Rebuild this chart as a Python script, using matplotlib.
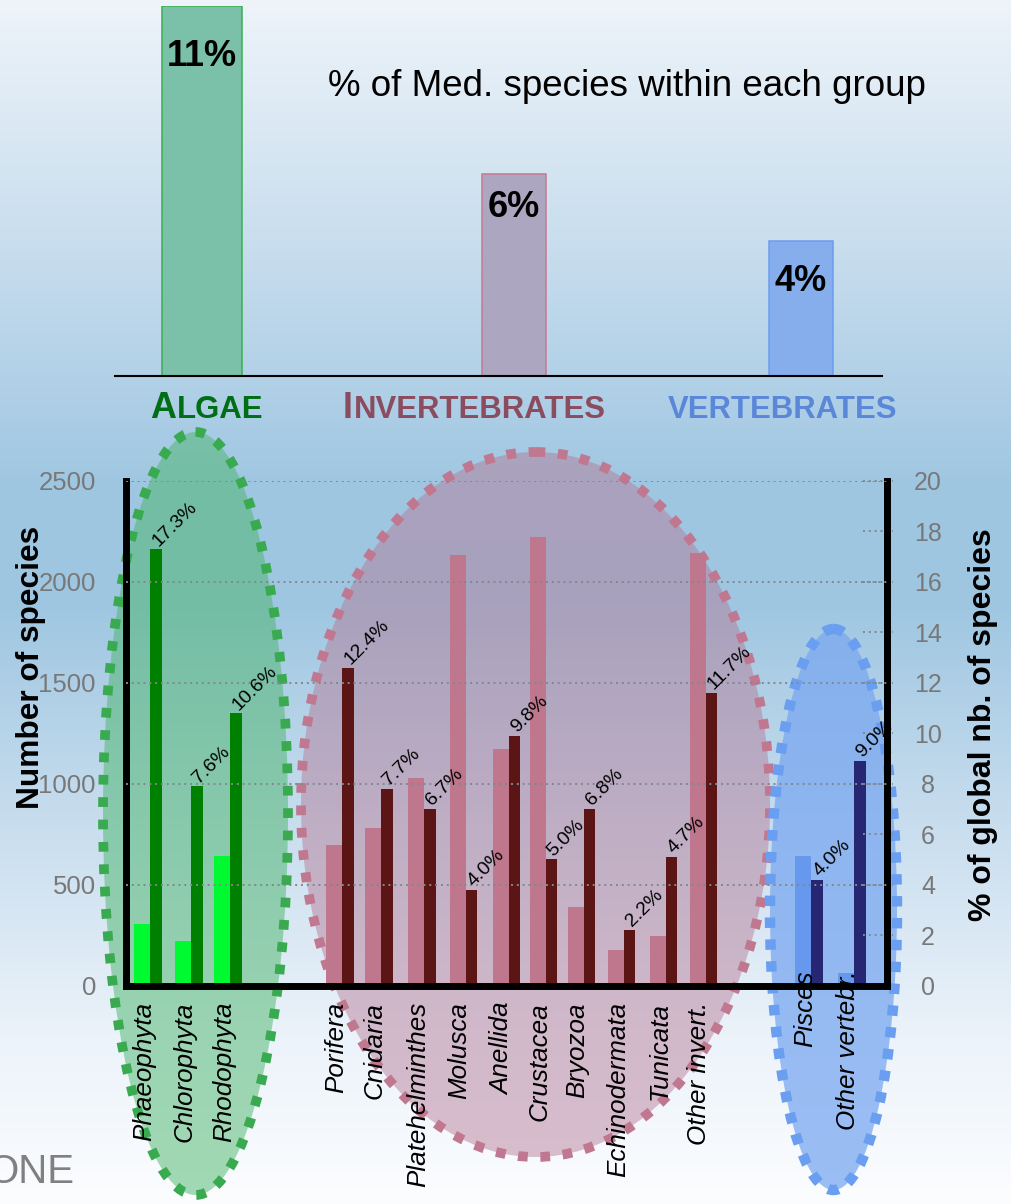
#=========================================================================
import numpy as np
import matplotlib
matplotlib.use('Agg')
import matplotlib.pyplot as plt
from matplotlib.patches import Ellipse

plt.rcParams['font.family'] = ['Liberation Sans', 'DejaVu Sans']

#=========================================================================
# values
group_first = ['A', 'I', '']
group_rest = ['LGAE', 'NVERTEBRATES', 'VERTEBRATES']
group_pct = [11, 6, 4]
group_pct_labels = ['11%', '6%', '4%']

taxa = ['Phaeophyta', 'Chlorophyta', 'Rhodophyta',
        'Porifera', 'Cnidaria', 'Platehelminthes', 'Molusca', 'Anellida',
        'Crustacea', 'Bryozoa', 'Echinodermata', 'Tunicata', 'Other invert.',
        'Pisces', 'Other vertebr.']
taxon_group = [0, 0, 0, 1, 1, 1, 1, 1, 1, 1, 1, 1, 1, 2, 2]
med_species = [303, 220, 643, 696, 778, 1026, 2135, 1172, 2223, 389, 177,
               247, 2144, 643, 60]
global_pct = [17.3, 7.9, 10.8, 12.6, 7.8, 7.0, 3.8, 9.9, 5.0, 7.0, 2.2,
              5.1, 11.6, 4.2, 8.9]
global_pct_labels = ['17.3%', '7.6%', '10.6%', '12.4%', '7.7%', '6.7%',
                     '4.0%', '9.8%', '5.0%', '6.8%', '2.2%', '4.7%',
                     '11.7%', '4.0%', '9.0%']

left_ticks = [0, 500, 1000, 1500, 2000, 2500]
right_ticks = [0, 2, 4, 6, 8, 10, 12, 14, 16, 18, 20]

#=========================================================================
# layout / styles
W, H = 1012, 1204

def fbox(x0, y0, x1, y1):
  # pixel box (origin top-left) -> figure fraction
  return [x0/W, 1 - y1/H, (x1 - x0)/W, (y1 - y0)/H]

# slot positions of the bar pairs (gaps between groups)
x_pos = [0.58, 1.59, 2.55, 5.31, 6.27, 7.33, 8.35, 9.41, 10.32, 11.26,
         12.25, 13.28, 14.26, 16.86, 17.92]
light_w = 0.394
dark_w = 0.283

light_col = ['#00fa32', '#be778c', '#6699ee']
dark_col = ['#008000', '#5a1514', '#262673']
head_col = ['#006e14', '#8a4c5e', '#5b87d9']
top_fill = ['#7bc0a8', '#aca6c0', '#86aeec']
top_edge = ['#3ab050', '#c87890', '#6a9ef0']
tick_gray = '#787878'
grid_gray = '#808890'

fig = plt.figure(figsize=(W/100, H/100), dpi=100)

#-------------------------------------------------------------------------
# background gradient + group ellipses (pixel coordinates)
bg = fig.add_axes([0, 0, 1, 1])
bg.set_zorder(0)
stops = [0, 260, 480, 600, 800, 1040, 1204]
cols = np.array([[238, 244, 250], [198, 220, 237], [160, 199, 226],
                 [158, 198, 225], [196, 219, 237], [236, 243, 250],
                 [252, 253, 255]]) / 255.0
yy = np.arange(H)
grad = np.stack([np.interp(yy, stops, cols[:, k]) for k in range(3)], axis=-1)
bg.imshow(grad[:, None, :], extent=(0, W, H, 0), aspect='auto',
          interpolation='bilinear')
bg.set_xlim(0, W)
bg.set_ylim(H, 0)
bg.axis('off')

ellipses = [
  # cx, cy, w, h, fill, alpha, edge, lw, dash
  (195.5, 813.5, 185, 763, '#4ab66b', 0.5, '#3aaa50', 7, (1, 1.3)),
  (535.5, 804.5, 469, 705, '#b57995', 0.47, '#c07890', 7, (1, 1.3)),
  (833.5, 909.5, 127, 561, '#7aa8f0', 0.75, '#6a9ef0', 7.5, (1, 1.1)),
]
for cx, cy, w, h, fc, a, ec, lw, dash in ellipses:
  bg.add_patch(Ellipse((cx, cy), w, h, facecolor=fc, alpha=a,
                       edgecolor='none'))
  bg.add_patch(Ellipse((cx, cy), w, h, fill=False, edgecolor=ec,
                       linewidth=lw, linestyle=(0, dash)))

#-------------------------------------------------------------------------
# top chart: % of Med. species within each group
ax_top = fig.add_axes(fbox(115, 6, 882, 376))
ax_top.set_zorder(2)
ax_top.patch.set_visible(False)
top_x = [0, 1, 1.92]
top_w = [0.256, 0.205, 0.205]
ax_top.bar(top_x, group_pct, width=top_w, color=top_fill, edgecolor=top_edge,
           linewidth=1.1)
drop_px = [50, 33, 40]
for x, v, lab, d in zip(top_x, group_pct, group_pct_labels, drop_px):
  ax_top.annotate(lab, (x, v), xytext=(0, -d*0.72), textcoords='offset points',
                  ha='center', va='center', fontsize=26, fontweight='bold')
ax_top.set_xlim(-0.279, 2.18)
ax_top.set_ylim(0, 11)
for s in ['left', 'right', 'top']:
  ax_top.spines[s].set_visible(False)
ax_top.spines['bottom'].set_linewidth(1.5)
ax_top.set_xticks([])
ax_top.set_yticks([])

bg.text(328, 87, '% of Med. species within each group', fontsize=26.5,
        ha='left', va='center')

# small-caps group headings
renderer = fig.canvas.get_renderer()
head_x = [150, 342.7, 668]
for x0, big, rest, c in zip(head_x, group_first, group_rest, head_col):
  x = x0
  if big:
    t = bg.text(x, 417.5, big, fontsize=25.8, fontweight='bold', color=c,
                ha='left', va='baseline')
    x += t.get_window_extent(renderer=renderer).width + 1.5
  bg.text(x, 417.5, rest, fontsize=22.4, fontweight='bold', color=c,
          ha='left', va='baseline')

#-------------------------------------------------------------------------
# bottom chart: number of species (left) and % of global species (right)
ax = fig.add_axes(fbox(126.5, 481, 887, 985.5))
ax2 = ax.twinx()
ax2.set_zorder(3)
ax.set_zorder(4)
ax.patch.set_visible(False)
ax2.patch.set_visible(False)

xp = np.array(x_pos)
ax.bar(xp - light_w, med_species, width=light_w, align='edge',
       color=[light_col[g] for g in taxon_group], linewidth=0)
ax2.bar(xp, global_pct, width=dark_w, align='edge',
        color=[dark_col[g] for g in taxon_group], linewidth=0)

# percentage labels go on the upper axes (so they sit over the light bars)
for x, v, lab in zip(xp, global_pct, global_pct_labels):
  ax.text(x + 0.2, v + 0.1, lab, transform=ax2.transData, rotation=45,
          rotation_mode='anchor', ha='left', va='baseline', fontsize=14,
          zorder=5)

for v in left_ticks[1:]:
  ax.axhline(v, linestyle=(0, (1, 2)), color=grid_gray, linewidth=1.4,
             zorder=3)
for v in right_ticks[1:]:
  ax2.plot([0.968, 1.008], [v, v], transform=ax2.get_yaxis_transform(),
           linestyle=(0, (1, 2)), color=grid_gray, linewidth=1.4,
           clip_on=False)

# category names hanging under the axis
label_top = [1002, 1002, 970]
for x, name, g in zip(xp, taxa, taxon_group):
  ax.text(x - 0.15, (985.5 - label_top[g]) / 504.5, name,
          transform=ax.get_xaxis_transform(), rotation=90, ha='center',
          va='top', fontsize=18.7, style='italic')

ax.set_xlim(0, 18.73)
ax.set_ylim(0, 2500)
ax2.set_ylim(0, 20)
ax.set_xticks([])
ax.set_yticks(left_ticks)
ax2.set_yticks(right_ticks)
ax.tick_params(axis='y', length=0, pad=22, labelsize=18.5,
               labelcolor=tick_gray)
ax2.tick_params(axis='y', length=0, pad=29.5, labelsize=18,
                labelcolor=tick_gray)
for lab in ax2.get_yticklabels():
  lab.set_horizontalalignment('center')

for s in ['right', 'top']:
  ax.spines[s].set_visible(False)
for s in ['left', 'bottom', 'top']:
  ax2.spines[s].set_visible(False)
for sp in [ax.spines['left'], ax.spines['bottom'], ax2.spines['right']]:
  sp.set_linewidth(5)
  sp.set_capstyle('projecting')
  sp.set_color('black')

fig.text(31/W, 1 - 667/H, 'Number of species', rotation=90, fontsize=22.8,
         fontweight='bold', ha='center', va='center')
fig.text(983/W, 1 - 725/H, '% of global nb. of species', rotation=90,
         fontsize=23, fontweight='bold', ha='center', va='center')

bg.text(74, 1172, 'ONE', fontsize=29, color='#808080', ha='right',
        va='center')

fig.savefig('out.png', dpi=100)
